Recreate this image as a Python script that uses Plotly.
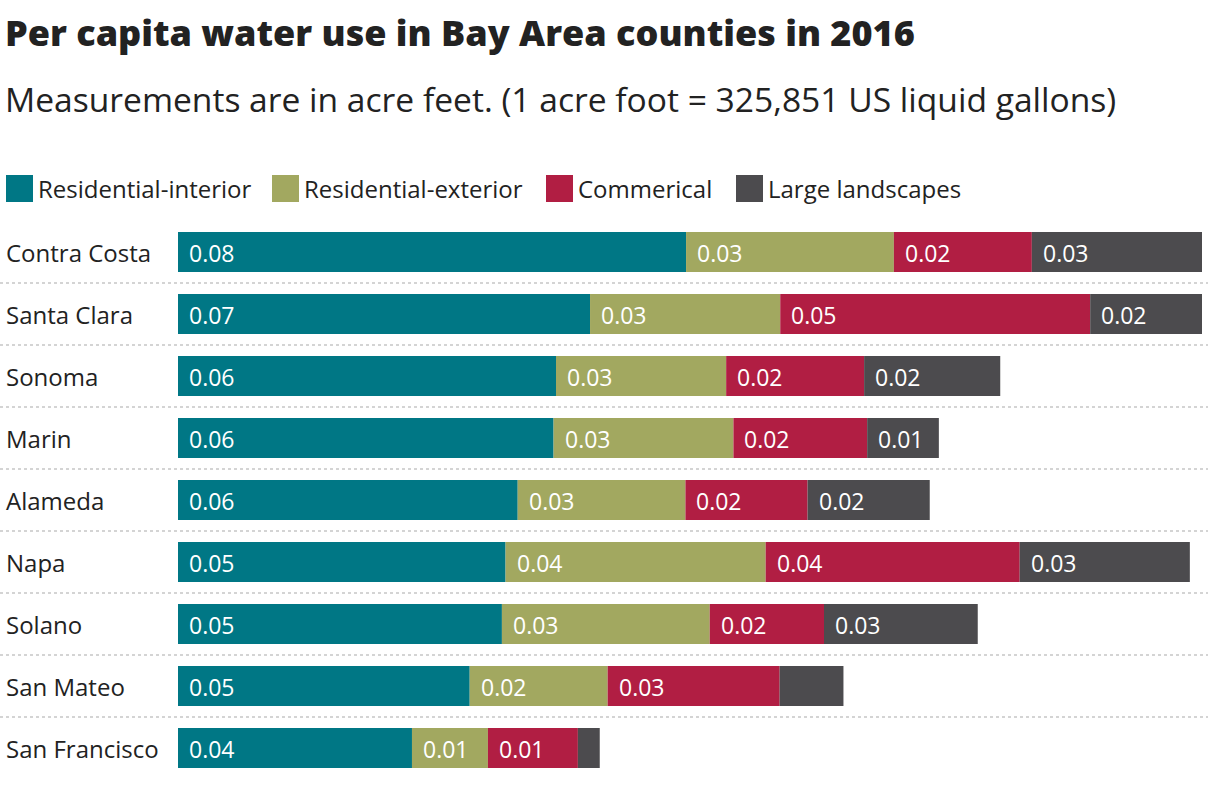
import plotly.graph_objects as go

counties = ["Contra Costa", "Santa Clara", "Sonoma", "Marin", "Alameda",
            "Napa", "Solano", "San Mateo", "San Francisco"]
series_names = ["Residential-interior", "Residential-exterior", "Commerical", "Large landscapes"]
res_interior = [0.0836, 0.0678, 0.0622, 0.0618, 0.0559, 0.0539, 0.0533, 0.0480, 0.0385]
res_exterior = [0.0342, 0.0313, 0.0280, 0.0296, 0.0276, 0.0428, 0.0342, 0.0227, 0.0125]
commercial   = [0.0227, 0.0510, 0.0227, 0.0220, 0.0201, 0.0418, 0.0188, 0.0283, 0.0148]
large_land   = [0.0280, 0.0184, 0.0224, 0.0118, 0.0201, 0.0280, 0.0253, 0.0105, 0.0036]

series_values = [res_interior, res_exterior, commercial, large_land]
colors = ["#007785", "#a2a860", "#b11e43", "#4c4b4e"]

W, H = 1208, 796
ML, MR, MT, MB = 178, 6, 221, 17
PW = W - ML - MR
PH = H - MT - MB
FONT = "'Open Sans', 'Noto Sans', sans-serif"
TXT = "#222222"


def px_x(p):
    return (p - ML) / PW


def px_y(p):
    return (H - MB - p) / PH


fig = go.Figure()
totals = [0.0] * len(counties)
annotations = []
for name, vals, col in zip(series_names, series_values, colors):
    fig.add_trace(go.Bar(
        y=counties, x=vals, base=totals[:], orientation="h", name=name,
        marker=dict(color=col, line=dict(width=0)), showlegend=False,
        hoverinfo="skip",
    ))
    for i, v in enumerate(vals):
        if v >= 0.011:
            annotations.append(dict(
                x=totals[i], y=counties[i], xref="x", yref="y",
                text=f"{v:.2f}", showarrow=False, xanchor="left", yanchor="middle",
                xshift=9, yshift=-1, font=dict(family=FONT, size=23, color="white"),
            ))
        totals[i] += v

xmax = max(totals)

# county labels
for c in counties:
    annotations.append(dict(
        x=px_x(4), y=c, xref="paper", yref="y", text=c, showarrow=False,
        xanchor="left", yanchor="middle", font=dict(family=FONT, size=24, color=TXT),
    ))

# title & subtitle
annotations.append(dict(
    x=px_x(3), y=px_y(33), xref="paper", yref="paper",
    text="Per capita water use in Bay Area counties in 2016",
    showarrow=False, xanchor="left", yanchor="middle",
    font=dict(family=FONT, size=36, color=TXT, weight=800),
))
annotations.append(dict(
    x=px_x(3), y=px_y(99), xref="paper", yref="paper",
    text="Measurements are in acre feet. (1 acre foot = 325,851 US liquid gallons)",
    showarrow=False, xanchor="left", yanchor="middle",
    font=dict(family=FONT, size=33.6, color=TXT),
))

shapes = []
# legend
legend_sq = [6, 272, 546, 736]
for name, col, sx in zip(series_names, colors, legend_sq):
    shapes.append(dict(type="rect", xref="paper", yref="paper",
                       x0=px_x(sx), x1=px_x(sx + 27), y0=px_y(202), y1=px_y(175),
                       fillcolor=col, line=dict(width=0)))
    annotations.append(dict(
        x=px_x(sx + 30), y=px_y(189), xref="paper", yref="paper", text=name,
        showarrow=False, xanchor="left", yanchor="middle",
        font=dict(family=FONT, size=24, color=TXT),
    ))

# dotted separators
for i in range(len(counties) - 1):
    shapes.append(dict(type="line", xref="paper", yref="y",
                       x0=px_x(0), x1=px_x(W), y0=i + 0.5, y1=i + 0.5,
                       line=dict(color="#d4d4d4", width=2, dash="dot")))

fig.update_layout(
    width=W, height=H,
    margin=dict(l=ML, r=MR, t=MT, b=MB, pad=0),
    paper_bgcolor="white", plot_bgcolor="white",
    barmode="overlay", bargap=22 / 62,
    xaxis=dict(range=[0, xmax], visible=False, fixedrange=True),
    yaxis=dict(categoryorder="array", categoryarray=counties,
               range=[len(counties) - 0.5, -0.5], visible=False, fixedrange=True),
    annotations=annotations, shapes=shapes,
    showlegend=False,
)

fig.write_html("out.html", config={"displayModeBar": False})
